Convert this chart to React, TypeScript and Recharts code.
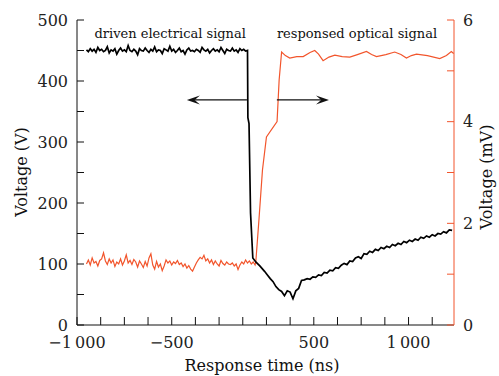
import { LineChart, Line, XAxis, YAxis, ReferenceLine, ReferenceDot } from "recharts";

const FONT = "DejaVu Serif";
const RED = "#f2552c";

// driven electrical signal (V), flat part sampled every 10 ns from -950
const elecFlatStart = -950;
const elecFlatStep = 10;
const elecFlat = [
  451, 448, 453, 449, 452, 447, 455, 450, 452, 448,
  450, 456, 446, 451, 449, 453, 444, 450, 454, 449,
  451, 448, 458, 450, 448, 452, 449, 443, 453, 450,
  449, 454, 450, 447, 452, 449, 456, 448, 451, 450,
  445, 453, 451, 449, 457, 449, 452, 447, 450, 454,
  448, 450, 444, 451, 454, 449, 450, 448, 452, 450,
  447, 455, 451, 449, 452, 446, 450, 453, 449, 451,
  448, 455, 450, 445, 452, 450, 449, 454, 449, 451,
  447, 453, 450, 452, 449,
];
const elecDrop: [number, number][] = [
  [-100, 450], [-98, 340], [-92, 330], [-84, 184], [-72, 110],
  [-55, 103], [-35, 97], [-10, 88], [5, 82],
];
// recovery, sampled every 15 ns from 20
const elecRiseStart = 20;
const elecRiseStep = 15;
const elecRise = [
  76, 71, 63, 58, 55, 48, 56, 54, 43, 56,
  60, 73, 74, 76, 75, 79, 78, 82, 81, 86,
  85, 90, 89, 94, 93, 98, 101, 99, 105, 104,
  110, 112, 109, 117, 116, 121, 119, 124, 122, 127,
  125, 129, 127, 132, 130, 134, 132, 137, 135, 139,
  137, 141, 139, 144, 142, 146, 144, 148, 146, 150,
  149, 153, 151, 156, 155,
];

// responsed optical signal (mV), baseline sampled every 10 ns from -950
const optBaseStart = -950;
const optBaseStep = 10;
const optBase = [
  1.2, 1.28, 1.18, 1.32, 1.22, 1.25, 1.16, 1.27, 1.3, 1.42,
  1.26, 1.19, 1.3, 1.22, 1.28, 1.15, 1.24, 1.2, 1.3, 1.18,
  1.26, 1.38, 1.22, 1.27, 1.19, 1.29, 1.24, 1.14, 1.26, 1.2,
  1.13, 1.25, 1.16, 1.32, 1.4, 1.18, 1.1, 1.25, 1.14, 1.2,
  1.07, 1.16, 1.28, 1.22, 1.26, 1.18, 1.24, 1.21, 1.27, 1.19,
  1.22, 1.15, 1.2, 1.12, 1.17, 1.1, 1.06, 1.14, 1.22, 1.28,
  1.33, 1.3, 1.37, 1.26, 1.3, 1.22, 1.28, 1.19, 1.26, 1.2,
  1.16, 1.27, 1.21, 1.18, 1.24, 1.2, 1.19, 1.22, 1.16, 1.2,
  1.09, 1.18, 1.24, 1.2, 1.28, 1.22, 1.26, 1.2, 1.24, 1.18,
];
const optRise: [number, number][] = [
  [-56, 1.25], [-39, 2.1], [-21, 3.05], [0, 3.7], [56, 4.0], [67, 4.82], [80, 5.37],
];
const optPlateau: [number, number][] = [
  [100, 5.3], [123, 5.25], [160, 5.28], [194, 5.28], [230, 5.36], [255, 5.4],
  [275, 5.33], [299, 5.2], [330, 5.27], [361, 5.31], [400, 5.28], [440, 5.27],
  [480, 5.32], [528, 5.38], [555, 5.32], [581, 5.28], [630, 5.32], [677, 5.37],
  [710, 5.32], [739, 5.25], [765, 5.3], [792, 5.33], [850, 5.3], [915, 5.24],
  [950, 5.3], [976, 5.38], [988, 5.34],
];

const xTicks = [-1000, -875, -750, -625, -500, -375, -250, -125, 0, 125, 250, 375, 500, 625, 750, 875];
const xTickLabels: Record<number, string> = { [-1000]: "\u22121\u2009000", [-500]: "\u2212500", 250: "500", 750: "1\u2009000" };
const leftTicks = [0, 50, 100, 150, 200, 250, 300, 350, 400, 450, 500];
const rightTicks = [0, 1, 2, 3, 4, 5, 6];

const electrical = [
  ...elecFlat.map((v, i) => ({ t: elecFlatStart + i * elecFlatStep, v })),
  ...elecDrop.map(([t, v]) => ({ t, v })),
  ...elecRise.map((v, i) => ({ t: elecRiseStart + i * elecRiseStep, v })),
];
const optical = [
  ...optBase.map((v, i) => ({ t: optBaseStart + i * optBaseStep, v })),
  ...optRise.map(([t, v]) => ({ t, v })),
  ...optPlateau.map(([t, v]) => ({ t, v })),
];

function Arrow(p: any) {
  const { x1, y1, x2, y2 } = p;
  const dir = Math.sign(x2 - x1) || 1;
  const L = 13, H = 4.5;
  const d = `M${x2},${y2} L${x2 - dir * L},${y2 - H} L${x2 - dir * L * 0.6},${y2} L${x2 - dir * L},${y2 + H} Z`;
  return (
    <g>
      <line x1={x1} y1={y1} x2={x2 - dir * L * 0.6} y2={y2} stroke="#111" strokeWidth={1.3} />
      <path d={d} fill="#111" />
    </g>
  );
}

function Note(text: string) {
  return (p: any) => (
    <text x={p.cx} y={p.cy} textAnchor="middle" fontFamily={FONT} fontSize={13} fill="#111">
      {text}
    </text>
  );
}

function LeftTick(p: any) {
  const label = p.payload.value % 100 === 0 ? String(p.payload.value) : "";
  return (
    <text x={p.x} y={p.y} dy="0.36em" textAnchor="end" fontFamily={FONT} fontSize={16} fill="#222">
      {label}
    </text>
  );
}

function RightTick(p: any) {
  const label = p.payload.value % 2 === 0 ? String(p.payload.value) : "";
  return (
    <text x={p.x} y={p.y} dy="0.36em" textAnchor="start" fontFamily={FONT} fontSize={16} fill="#222">
      {label}
    </text>
  );
}

function BottomTick(p: any) {
  const label = xTickLabels[p.payload.value] ?? "";
  return (
    <text x={p.x} y={p.y} dy="0.74em" textAnchor="middle" fontFamily={FONT} fontSize={16} fill="#222">
      {label}
    </text>
  );
}

export default function App() {
  return (
    <div style={{ position: "fixed", left: 0, top: 0, width: 499, height: 376, background: "#fff" }}>
      <LineChart width={499} height={376} margin={{ top: 20, right: 10, bottom: 11, left: 12 }}>
        <XAxis
          type="number"
          dataKey="t"
          domain={[-1000, 990]}
          ticks={xTicks}
          interval={0}
          tickSize={-8}
          tickMargin={19}
          height={40}
          stroke="#111"
          tick={BottomTick}
          allowDataOverflow
        />
        <YAxis
          yAxisId="left"
          domain={[0, 500]}
          ticks={leftTicks}
          interval={0}
          tickSize={-7}
          tickMargin={16}
          width={65}
          stroke="#111"
          tick={LeftTick}
        />
        <YAxis
          yAxisId="right"
          orientation="right"
          domain={[0, 6]}
          ticks={rightTicks}
          interval={0}
          tickSize={-7}
          tickMargin={16}
          width={35}
          stroke={RED}
          tick={RightTick}
        />
        <Line
          yAxisId="right"
          data={optical}
          dataKey="v"
          stroke={RED}
          strokeWidth={1.2}
          dot={false}
          type="linear"
          isAnimationActive={false}
        />
        <Line
          yAxisId="left"
          data={electrical}
          dataKey="v"
          stroke="#000"
          strokeWidth={1.7}
          dot={false}
          type="linear"
          isAnimationActive={false}
        />
        <ReferenceLine yAxisId="left" segment={[{ x: -103, y: 369 }, { x: -420, y: 369 }]} shape={Arrow} />
        <ReferenceLine yAxisId="left" segment={[{ x: 55, y: 369 }, { x: 330, y: 369 }]} shape={Arrow} />
        <ReferenceDot yAxisId="left" x={-508} y={471} shape={Note("driven electrical signal")} />
        <ReferenceDot yAxisId="left" x={478} y={471} shape={Note("responsed optical signal")} />
      </LineChart>
      <svg width={499} height={376} style={{ position: "absolute", left: 0, top: 0, pointerEvents: "none" }}>
        <text x={262} y={371} textAnchor="middle" fontFamily={FONT} fontSize={16} fill="#111">
          Response time (ns)
        </text>
        <text x={0} y={0} transform="translate(27,172) rotate(-90)" textAnchor="middle" fontFamily={FONT} fontSize={16} fill="#111">
          Voltage (V)
        </text>
        <text x={0} y={0} transform="translate(492,177) rotate(-90)" textAnchor="middle" fontFamily={FONT} fontSize={16} fill="#111">
          Voltage (mV)
        </text>
      </svg>
    </div>
  );
}
